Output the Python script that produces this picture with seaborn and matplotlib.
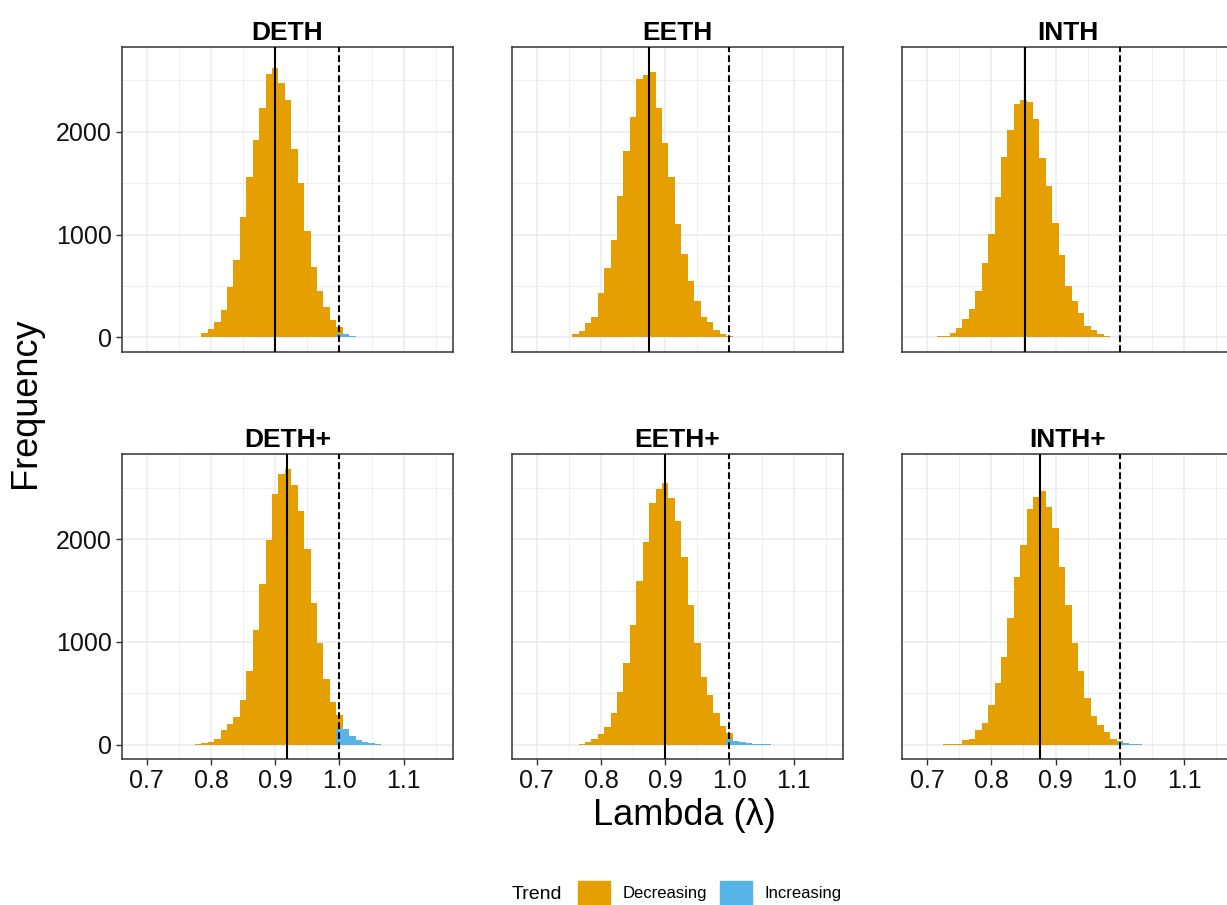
import numpy as np
import pandas as pd
import matplotlib
matplotlib.use("Agg")
import matplotlib.pyplot as plt
from matplotlib.patches import Patch
from matplotlib.ticker import MultipleLocator
import seaborn as sns

# bin centres (binwidth 0.01)
lambda_bins = [0.71, 0.72, 0.73, 0.74, 0.75, 0.76, 0.77, 0.78, 0.79, 0.80,
               0.81, 0.82, 0.83, 0.84, 0.85, 0.86, 0.87, 0.88, 0.89, 0.90,
               0.91, 0.92, 0.93, 0.94, 0.95, 0.96, 0.97, 0.98, 0.99, 1.00,
               1.01, 1.02, 1.03, 1.04, 1.05, 1.06]

panels = ["DETH", "EETH", "INTH", "DETH+", "EETH+", "INTH+"]

# counts, "Decreasing" part
deth_dec = [0, 0, 0, 0, 0, 0, 3, 7, 42, 78,
            153, 267, 488, 754, 1171, 1561, 1925, 2234, 2559, 2618,
            2478, 2309, 1837, 1506, 1034, 683, 449, 293, 169, 68,
            0, 0, 0, 0, 0, 0]
eeth_dec = [0, 0, 0, 0, 6, 33, 65, 137, 202, 429,
            673, 950, 1372, 1811, 2140, 2511, 2553, 2579, 2228, 1893,
            1561, 1099, 810, 553, 358, 202, 146, 72, 33, 8,
            0, 0, 0, 0, 0, 0]
inth_dec = [3, 8, 16, 42, 91, 179, 276, 455, 722, 1008,
            1366, 1756, 2016, 2270, 2315, 2290, 2130, 1750, 1473, 1112,
            797, 504, 358, 234, 114, 72, 33, 13, 3, 1,
            0, 0, 0, 0, 0, 0]
dethp_dec = [0, 0, 0, 0, 0, 0, 0, 6, 13, 26,
             58, 138, 196, 270, 438, 712, 1114, 1559, 1990, 2441,
             2634, 2686, 2531, 2274, 1903, 1382, 992, 638, 415, 145,
             0, 0, 0, 0, 0, 0]
eethp_dec = [0, 0, 0, 0, 0, 0, 6, 26, 52, 100,
             174, 309, 509, 799, 1163, 1597, 1968, 2354, 2493, 2548,
             2403, 2177, 1829, 1356, 992, 663, 486, 309, 180, 58,
             0, 0, 0, 0, 0, 0]
inthp_dec = [0, 0, 3, 6, 10, 42, 58, 142, 213, 390,
             599, 857, 1234, 1630, 1942, 2296, 2409, 2467, 2312, 2113,
             1733, 1356, 986, 712, 454, 277, 187, 122, 58, 9,
             0, 0, 0, 0, 0, 0]

# "Increasing" part (lambda >= 1)
deth_inc = [0] * 29 + [30, 30, 10, 4, 2, 0, 0]
eeth_inc = [0] * 29 + [5, 5, 2, 0, 0, 0, 0]
inth_inc = [0] * 36
dethp_inc = [0] * 29 + [148, 148, 84, 45, 26, 13, 3]
eethp_inc = [0] * 29 + [52, 35, 26, 16, 10, 6, 3]
inthp_inc = [0] * 29 + [26, 19, 10, 3, 0, 0, 0]

medians = [0.899, 0.874, 0.852, 0.919, 0.900, 0.8755]

dec_counts = [deth_dec, eeth_dec, inth_dec, dethp_dec, eethp_dec, inthp_dec]
inc_counts = [deth_inc, eeth_inc, inth_inc, dethp_inc, eethp_inc, inthp_inc]

rows = []
for panel, dec, inc in zip(panels, dec_counts, inc_counts):
    for b, d, i in zip(lambda_bins, dec, inc):
        rows.append((panel, b, "Decreasing", d))
        rows.append((panel, b, "Increasing", i))
df = pd.DataFrame(rows, columns=["panel", "lam", "trend", "count"])

colors = {"Decreasing": "#E69F00", "Increasing": "#56B4E9"}

sns.set_theme(style="white")
plt.rcParams["font.family"] = ["Liberation Sans", "DejaVu Sans"]
plt.rcParams["text.color"] = "black"

W, H = 1227, 905
fig = plt.figure(figsize=(W / 100, H / 100), dpi=100)

col_left = [121.7, 511.7, 902.0]
row_top = [46.7, 454.0]
aw, ah = 331.5, 305.0

for k, panel in enumerate(panels):
    r, c = divmod(k, 3)
    ax = fig.add_axes([col_left[c] / W, 1 - (row_top[r] + ah) / H, aw / W, ah / H])
    sub = df[df["panel"] == panel]
    sns.histplot(data=sub, x="lam", weights="count", hue="trend",
                 hue_order=["Decreasing", "Increasing"], palette=colors,
                 multiple="stack", binwidth=0.01, binrange=(0.705, 1.065),
                 element="bars", linewidth=0, alpha=1, legend=False, ax=ax)
    ax.axvline(medians[k], color="black", lw=1.5, zorder=5)
    ax.axvline(1.0, color="black", lw=1.5, ls=(0, (3.2, 1.6)), zorder=5)

    ax.set_xlim(0.661, 1.177)
    ax.set_ylim(-140, 2829)
    ax.xaxis.set_major_locator(MultipleLocator(0.1))
    ax.xaxis.set_minor_locator(MultipleLocator(0.05))
    ax.yaxis.set_major_locator(MultipleLocator(1000))
    ax.yaxis.set_minor_locator(MultipleLocator(500))
    ax.set_axisbelow(True)
    ax.grid(which="major", color="#EBEBEB", lw=1.1)
    ax.grid(which="minor", color="#EBEBEB", lw=0.6)
    for s in ax.spines.values():
        s.set_color("#333333")
        s.set_linewidth(1.1)
    ax.tick_params(which="major", direction="out", length=4.3, width=1,
                   color="#333333", labelsize=18, labelcolor="#111111", pad=3)
    ax.tick_params(which="minor", length=0)
    ax.tick_params(axis="x", bottom=(r == 1), labelbottom=(r == 1))
    ax.tick_params(axis="y", left=(c == 0), labelleft=(c == 0))
    ax.set_xlabel("")
    ax.set_ylabel("")
    ax.set_title(panel, fontsize=19, fontweight="bold", pad=5, color="black")

fig.text(25 / W, 1 - 403 / H, "Frequency", rotation=90, fontsize=26,
         ha="center", va="center", color="black")
fig.text(684 / W, 1 - 815 / H, "Lambda (\u03bb)", fontsize=26,
         ha="center", va="center", color="black")

fig.text(537 / W, 1 - 894 / H, "Trend", fontsize=14, ha="center", va="center",
         color="black")
handles = [Patch(color=colors["Decreasing"], label="Decreasing"),
           Patch(color=colors["Increasing"], label="Increasing")]
fig.legend(handles=handles, ncol=2, loc="center left",
           bbox_to_anchor=(578 / W, 1 - 893 / H), frameon=False, fontsize=12,
           handlelength=1.9, handleheight=1.9, handletextpad=0.78,
           columnspacing=0.78, borderpad=0, borderaxespad=0,
           labelcolor="black")

fig.savefig("out.png", dpi=100)
